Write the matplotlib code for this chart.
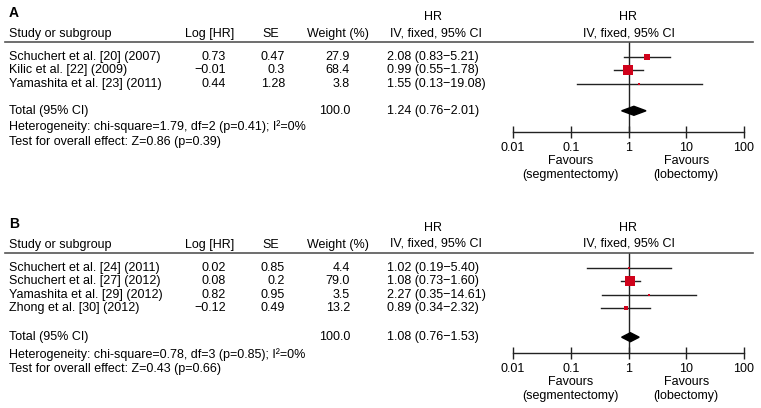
import numpy as np
import matplotlib
matplotlib.use("Agg")
import matplotlib.pyplot as plt
from matplotlib.lines import Line2D
from matplotlib.transforms import blended_transform_factory

plt.rcParams['font.family'] = ['Liberation Sans', 'DejaVu Sans']
plt.rcParams['font.size'] = 9

# ---- data, panel A
a_studies = ["Schuchert et al. [20] (2007)", "Kilic et al. [22] (2009)", "Yamashita et al. [23] (2011)"]
a_loghr = ["0.73", "\u22120.01", "0.44"]
a_se = ["0.47", "0.3", "1.28"]
a_weight = [27.9, 68.4, 3.8]
a_hr = [2.08, 0.99, 1.55]
a_lo = [0.83, 0.55, 0.13]
a_hi = [5.21, 1.78, 19.08]
a_total = (1.24, 0.76, 2.01)
a_het = "Heterogeneity: chi-square=1.79, df=2 (p=0.41); I\u00b2=0%"
a_test = "Test for overall effect: Z=0.86 (p=0.39)"

# ---- data, panel B
b_studies = ["Schuchert et al. [24] (2011)", "Schuchert et al. [27] (2012)",
             "Yamashita et al. [29] (2012)", "Zhong et al. [30] (2012)"]
b_loghr = ["0.02", "0.08", "0.82", "\u22120.12"]
b_se = ["0.85", "0.2", "0.95", "0.49"]
b_weight = [4.4, 79.0, 3.5, 13.2]
b_hr = [1.02, 1.08, 2.27, 0.89]
b_lo = [0.19, 0.73, 0.35, 0.34]
b_hi = [5.40, 1.60, 14.61, 2.32]
b_total = (1.08, 0.76, 1.53)
b_het = "Heterogeneity: chi-square=0.78, df=3 (p=0.85); I\u00b2=0%"
b_test = "Test for overall effect: Z=0.43 (p=0.66)"

ticks = [0.01, 0.1, 1, 10, 100]
tick_labels = ["0.01", "0.1", "1", "10", "100"]

W, H = 761, 408
RED = '#d0021b'
DARK = '#222222'

fig = plt.figure(figsize=(W / 100, H / 100), dpi=100)


def ci_text(h, l, u):
    return "{:.2f} ({:.2f}\u2212{:.2f})".format(h, l, u)


def panel(label, studies, loghr, se, weight, hr, lo, hi, total, het, test,
          top, total_gap, axis_gap, het_gap):
    line_y = top + 42
    n = len(studies)
    rows = [line_y + 15 + 13.4 * i for i in range(n)]
    total_y = rows[-1] + total_gap
    axis_y = total_y + axis_gap
    het_y = total_y + het_gap
    test_y = het_y + 15

    ax = fig.add_axes([513 / W, 1 - axis_y / H, (744 - 513) / W, (axis_y - line_y) / H])
    ax.set_xscale('log')
    ax.set_xlim(0.01, 100)
    ax.set_ylim(axis_y, line_y)
    ax.patch.set_alpha(0)
    for s in ['top', 'left', 'right']:
        ax.spines[s].set_visible(False)
    ax.spines['bottom'].set_color(DARK)
    ax.spines['bottom'].set_linewidth(1)
    ax.set_yticks([])
    ax.set_xticks(ticks)
    ax.set_xticklabels(tick_labels)
    ax.minorticks_off()
    ax.tick_params(axis='x', direction='inout', length=8, width=1, color=DARK, pad=3, labelsize=9)

    tr = blended_transform_factory(fig.transFigure, ax.transData)

    def t(x, y, s, ha='left', **kw):
        ax.text(x / W, y, s, transform=tr, ha=ha, va='center', clip_on=False, **kw)

    t(9, top + 13, label, fontweight='bold', fontsize=10)
    t(433, top + 17, "HR", ha='center')
    t(436, top + 33, "IV, fixed, 95% CI", ha='center')
    ax.text(1, top + 17, "HR", ha='center', va='center', clip_on=False)
    ax.text(1, top + 33, "IV, fixed, 95% CI", ha='center', va='center', clip_on=False)
    t(9, top + 34, "Study or subgroup")
    t(210, top + 34, "Log [HR]", ha='center')
    t(271, top + 34, "SE", ha='center')
    t(338, top + 34, "Weight (%)", ha='center')
    ax.add_line(Line2D([5 / W, 753 / W], [line_y, line_y], transform=tr,
                       color='#555555', lw=1.2, clip_on=False))

    for i in range(n):
        y = rows[i]
        t(9, y, studies[i])
        t(226, y, loghr[i], ha='right')
        t(285, y, se[i], ha='right')
        t(350, y, "{:.1f}".format(weight[i]), ha='right')
        t(387, y, ci_text(hr[i], lo[i], hi[i]))
        ax.plot([lo[i], hi[i]], [y, y], color=DARK, lw=1, zorder=2)
        ax.plot(hr[i], y, marker='s', linestyle='none', color=RED,
                ms=max(np.sqrt(weight[i]) * 0.8, 1.6), mew=0, zorder=3)

    ax.axvline(1, color=DARK, lw=1, zorder=1)

    t(9, total_y, "Total (95% CI)")
    t(350, total_y, "100.0", ha='right')
    t(387, total_y, ci_text(*total))
    h, l, u = total
    ax.fill([l, h, u, h], [total_y, total_y - 4.5, total_y, total_y + 4.5], color='black', zorder=3)

    t(9, het_y, het)
    t(9, test_y, test)

    ax.text(0.1, axis_y + 29, "Favours", ha='center', va='center', clip_on=False)
    ax.text(0.1, axis_y + 43, "(segmentectomy)", ha='center', va='center', clip_on=False)
    ax.text(10, axis_y + 29, "Favours", ha='center', va='center', clip_on=False)
    ax.text(10, axis_y + 43, "(lobectomy)", ha='center', va='center', clip_on=False)


panel("A", a_studies, a_loghr, a_se, a_weight, a_hr, a_lo, a_hi, a_total, a_het, a_test,
      0, 27, 21, 16)
panel("B", b_studies, b_loghr, b_se, b_weight, b_hr, b_lo, b_hi, b_total, b_het, b_test,
      211, 29, 16, 17)

fig.savefig("out.png", dpi=100)
